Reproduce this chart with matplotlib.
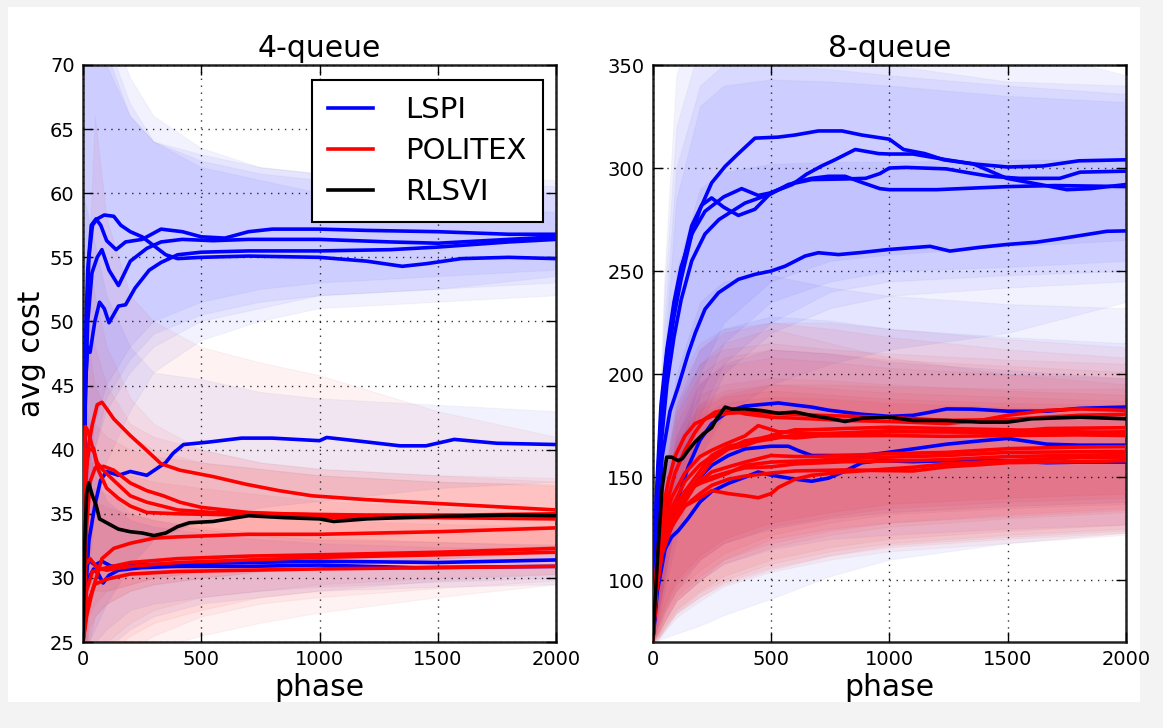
import matplotlib
matplotlib.use("Agg")
import matplotlib.pyplot as plt
from matplotlib.lines import Line2D
from matplotlib.patches import Rectangle

# ---------------- data : 4-queue ----------------
Q4_BAND_X = [0, 25, 50, 100, 200, 300, 500, 750, 1000, 1500, 2000]

Q4_LSPI = [
    ([0, 10, 20, 35, 55, 75, 100, 140, 180, 250, 330, 420, 500, 600, 700, 800, 1000, 1200, 1500, 1800, 2000],
     [25, 48, 54, 57.5, 58.0, 57.5, 56.3, 55.6, 56.2, 56.4, 57.2, 57.0, 56.6, 56.5, 57.0, 57.2, 57.2, 57.1, 57.0, 56.8, 56.8]),
    ([0, 8, 15, 25, 40, 60, 90, 130, 160, 200, 250, 300, 350, 400, 500, 700, 1000, 1200, 1350, 1450, 1600, 1800, 2000],
     [25, 42, 50, 55, 57.5, 58.0, 58.3, 58.2, 57.5, 57.0, 56.6, 55.9, 55.2, 54.9, 55.0, 55.1, 55.0, 54.7, 54.3, 54.5, 54.9, 55.0, 54.9]),
    ([0, 10, 20, 38, 60, 80, 110, 150, 200, 270, 330, 420, 550, 700, 1000, 1300, 1500, 1700, 2000],
     [25, 44, 50, 53.8, 55.0, 55.6, 54.0, 52.8, 54.7, 55.7, 56.2, 56.4, 56.3, 56.4, 56.4, 56.2, 56.1, 56.3, 56.6]),
    ([0, 10, 20, 30, 50, 70, 90, 110, 150, 180, 220, 280, 330, 400, 500, 700, 1000, 1300, 1500, 1800, 2000],
     [25, 45, 48, 47.6, 50, 51.5, 51.0, 49.9, 51.2, 51.3, 52.6, 54.0, 54.6, 55.2, 55.4, 55.5, 55.5, 55.6, 55.8, 56.2, 56.4]),
    ([0, 15, 25, 45, 53, 74, 100, 150, 200, 270, 310, 350, 380, 425, 535, 670, 800, 1000, 1030, 1200, 1340, 1450, 1570, 1750, 2000],
     [25, 30, 32.9, 35.1, 35.9, 37.6, 38.3, 38.0, 38.3, 38.0, 38.5, 39.0, 39.7, 40.4, 40.6, 40.9, 40.9, 40.7, 40.95, 40.6, 40.3, 40.3, 40.8, 40.5, 40.4]),
    ([0, 10, 25, 50, 80, 120, 200, 400, 700, 1000, 1500, 2000],
     [25, 30.5, 31.4, 31.0, 31.3, 30.9, 31.0, 31.1, 31.2, 31.3, 31.2, 31.4]),
    ([0, 10, 25, 45, 65, 85, 110, 150, 250, 400, 700, 1000, 1400, 2000],
     [25, 29.0, 30.0, 30.7, 30.3, 29.6, 30.2, 30.6, 30.8, 30.9, 30.9, 31.0, 30.8, 30.9]),
]
Q4_LSPI_LO = [
    [20, 38, 42, 45, 48, 50, 51.5, 52.5, 53, 53.5, 54],
    [20, 35, 40, 44, 47, 49, 50.5, 51.5, 52, 52.5, 53],
    [20, 36, 40, 43, 46, 48, 50, 51, 52, 52.5, 53.5],
    [20, 30, 35, 39, 43, 46, 48.5, 50, 51, 51.5, 52],
    [20, 25, 26, 28, 31, 33, 34.5, 35.5, 36, 37, 37.5],
    [20, 24, 25, 26, 27.5, 28, 28.5, 29, 29.3, 29.7, 30],
    [20, 22, 23, 24.5, 26, 27, 28, 28.5, 29, 29.3, 29.5],
]
Q4_LSPI_HI = [
    [80, 80, 78, 74, 69, 66, 63.5, 62, 61.5, 61, 60.5],
    [80, 80, 78, 72, 67, 64, 62, 61, 60, 59, 58.5],
    [80, 78, 75, 71, 66, 64, 62.5, 61.5, 61, 60.5, 60],
    [80, 78, 74, 70, 66, 64, 63, 62, 61.5, 61, 61],
    [60, 58, 56, 52, 48, 46, 45.5, 44.5, 44, 43.5, 43],
    [45, 42, 40, 37, 35, 34.5, 33.8, 33.3, 33, 32.8, 32.6],
    [45, 40, 38, 36, 34.5, 34, 33.5, 33, 32.7, 32.4, 32.3],
]

Q4_POLITEX = [
    ([0, 8, 20, 40, 60, 80, 100, 130, 200, 260, 330, 410, 550, 690, 830, 970, 1200, 1500, 1800, 2000],
     [25, 36, 40, 42, 43.5, 43.7, 43.2, 42.4, 41.1, 40.1, 38.9, 38.4, 37.9, 37.3, 36.8, 36.4, 36.1, 35.8, 35.5, 35.3]),
    ([0, 5, 10, 20, 40, 60, 80, 130, 200, 270, 400, 550, 800, 1200, 1600, 2000],
     [25, 38, 41.8, 41.5, 40.2, 39.0, 38.5, 37.6, 36.4, 35.9, 35.3, 35.1, 35.0, 34.9, 34.9, 35.0]),
    ([0, 15, 30, 52, 87, 130, 200, 270, 340, 410, 500, 700, 1000, 1500, 2000],
     [25, 34, 37.5, 38.6, 38.7, 38.4, 37.4, 36.8, 36.4, 35.9, 35.5, 35.1, 34.9, 34.8, 34.8]),
    ([0, 10, 25, 45, 60, 100, 150, 200, 270, 400, 700, 1000, 1500, 2000],
     [25, 38, 40.0, 40.1, 38.6, 37.0, 36.2, 35.6, 35.1, 35.0, 34.9, 34.7, 34.7, 34.6]),
    ([0, 15, 40, 80, 130, 200, 300, 400, 550, 700, 1000, 1500, 2000],
     [25, 27, 29, 31.5, 32.3, 32.7, 33.1, 33.2, 33.3, 33.4, 33.4, 33.6, 33.9]),
    ([0, 15, 40, 100, 200, 400, 700, 1000, 1500, 2000],
     [25, 29, 30.5, 30.8, 31.2, 31.5, 31.7, 31.8, 32.0, 32.3]),
    ([0, 10, 30, 60, 100, 200, 400, 700, 1000, 1500, 2000],
     [25, 31, 31.5, 30.8, 30.6, 30.9, 31.2, 31.4, 31.6, 31.8, 32.0]),
    ([0, 20, 50, 100, 200, 400, 700, 1000, 1500, 2000],
     [25, 28, 29.5, 29.9, 30.3, 30.5, 30.6, 30.7, 30.8, 30.9]),
]
Q4_POLITEX_LO = [
    [20, 25, 27, 28, 29, 29.5, 30, 30.5, 31, 31.5, 32],
    [20, 28, 29, 29, 29.5, 30, 30.5, 31, 31.5, 32, 32.5],
    [20, 26, 27, 28, 29, 29.5, 30, 30.5, 31, 31.5, 32],
    [20, 27, 28, 29, 29.5, 30, 30.5, 31, 31.5, 32, 32.2],
    [18, 20, 22, 24, 25.5, 26.5, 27.5, 28.5, 29, 29.8, 30.3],
    [18, 20, 21, 22, 23.5, 24.5, 25.5, 26.5, 27.3, 28.5, 29.5],
    [18, 22, 23.5, 25, 26.5, 27.5, 28.5, 29, 29.5, 30, 30.3],
    [18, 21, 22, 23, 24.5, 25.5, 27, 28, 28.5, 29.2, 29.8],
]
Q4_POLITEX_HI = [
    [40, 55, 66, 58, 52, 50, 48, 46.8, 45.8, 43, 41],
    [50, 55, 52, 48, 44, 42, 40, 39, 38.5, 38, 37.8],
    [45, 50, 48, 45, 42, 41, 40, 39, 38.5, 38, 37.5],
    [45, 48, 45, 43, 41, 40, 39, 38.5, 38, 37.5, 37.3],
    [40, 42, 42, 41, 40, 39.5, 39, 38.5, 38, 37.5, 37.2],
    [38, 39, 39, 38.5, 38, 37.5, 37, 36.5, 36, 35.5, 35],
    [36, 37, 37, 36.5, 36, 35.5, 35, 34.7, 34.5, 34.2, 34],
    [34, 36, 36, 35.5, 35, 34.5, 34, 33.5, 33.2, 32.8, 32.5],
]

Q4_RLSVI = [
    ([0, 8, 15, 24, 40, 55, 70, 100, 150, 200, 250, 300, 350, 400, 450, 550, 700, 850, 1000, 1060, 1200, 1500, 1800, 2000],
     [25, 33, 36.5, 37.4, 36.4, 35.7, 34.6, 34.3, 33.8, 33.6, 33.5, 33.3, 33.5, 34.0, 34.3, 34.4, 34.85, 34.7, 34.6, 34.4, 34.6, 34.8, 34.9, 34.85]),
]

# ---------------- data : 8-queue ----------------
Q8_BAND_X = [0, 25, 50, 100, 200, 300, 500, 750, 1000, 1500, 2000]

Q8_LSPI = [
    ([0, 15, 35, 60, 90, 120, 160, 200, 249, 306, 362, 432, 530, 600, 700, 800, 884, 1000, 1060, 1150, 1230, 1355, 1500, 1650, 1800, 2000],
     [70, 140, 185, 212, 235, 252, 266, 280, 292.8, 300.8, 307, 314.5, 315, 316, 318, 318, 316, 314, 309, 307, 304, 302, 300.5, 301, 303.5, 304]),
    ([0, 15, 35, 60, 90, 120, 165, 207, 249, 300, 362, 432, 500, 600, 672, 743, 813, 884, 960, 1000, 1200, 1500, 1700, 2000],
     [70, 135, 180, 210, 232, 250, 272, 282, 285.5, 281, 277, 280, 288, 293, 295, 296, 296, 293, 290, 289.5, 289.5, 291, 291.5, 291]),
    ([0, 15, 35, 60, 90, 120, 165, 221, 300, 376, 446, 500, 590, 650, 714, 770, 856, 955, 1000, 1100, 1242, 1355, 1496, 1637, 1750, 1850, 2000],
     [70, 130, 175, 205, 228, 246, 268, 279, 286, 290, 286.7, 288, 292, 297, 301, 304, 309, 307, 306.8, 306.8, 304, 302, 295, 292, 289.5, 290, 292]),
    ([0, 15, 35, 60, 90, 120, 165, 221, 280, 390, 500, 573, 672, 813, 900, 960, 1000, 1070, 1240, 1355, 1425, 1550, 1720, 1806, 2000],
     [70, 125, 165, 195, 218, 236, 255, 268, 275, 283, 287.5, 292, 294.4, 294.7, 295, 297.3, 300, 300.3, 299.6, 297.3, 296, 295, 295, 298, 298.5]),
    ([0, 20, 40, 73, 108, 150, 180, 221, 278, 362, 432, 500, 560, 644, 700, 785, 880, 1000, 1172, 1256, 1380, 1496, 1620, 1722, 1919, 2000],
     [70, 120, 160, 182, 194, 210, 220, 231.5, 239.5, 246, 248.4, 250, 252.4, 257.3, 258.9, 258, 259, 260.5, 262, 259.7, 261.5, 262.9, 264, 265.7, 269.3, 269.5]),
    ([0, 20, 50, 80, 108, 150, 200, 250, 320, 390, 531, 600, 672, 743, 813, 884, 1000, 1100, 1172, 1242, 1350, 1500, 1665, 1806, 2000],
     [70, 100, 120, 130, 140, 155, 168, 176, 182, 184.5, 186, 185, 184, 182.5, 181.5, 180.5, 179.5, 180, 181.5, 183.1, 183, 182, 182, 183.4, 184]),
    ([0, 20, 50, 80, 108, 150, 200, 249, 320, 390, 500, 573, 615, 672, 813, 884, 961, 1100, 1242, 1383, 1500, 1665, 1806, 2000],
     [70, 100, 118, 126, 132, 142, 150, 155.7, 160.5, 163.7, 165, 165, 162.9, 160.5, 160.5, 160.5, 161.5, 163.7, 166, 167.6, 168.8, 166, 165.5, 165.5]),
    ([0, 20, 52, 80, 108, 150, 200, 249, 320, 390, 446, 500, 602, 672, 743, 813, 884, 961, 1100, 1242, 1500, 1665, 1806, 2000],
     [70, 95, 115, 121, 124, 130, 138, 143, 147, 150, 152.5, 151, 149, 148, 149.5, 153, 157, 158, 157.5, 158, 158, 157, 157.3, 157.3]),
]
Q8_LSPI_LO = [
    [70, 90, 110, 150, 200, 225, 245, 255, 258, 262, 265],
    [70, 88, 105, 140, 190, 215, 235, 245, 250, 252, 255],
    [70, 85, 100, 135, 180, 205, 225, 240, 245, 248, 250],
    [70, 85, 100, 130, 175, 200, 220, 232, 238, 242, 245],
    [70, 80, 95, 120, 160, 180, 195, 205, 212, 220, 235],
    [70, 78, 85, 95, 110, 118, 125, 130, 133, 136, 138],
    [70, 75, 80, 90, 100, 108, 115, 120, 122, 125, 127],
    [70, 71, 72, 74, 78, 83, 91, 102, 110, 118, 123],
]
Q8_LSPI_HI = [
    [70, 170, 250, 345, 380, 390, 390, 385, 375, 360, 345],
    [70, 160, 240, 320, 360, 365, 360, 355, 350, 342, 340],
    [70, 150, 225, 300, 340, 350, 350, 348, 345, 340, 336],
    [70, 140, 210, 285, 330, 340, 343, 342, 340, 335, 332],
    [70, 130, 180, 250, 290, 298, 302, 303, 303, 304, 304],
    [70, 120, 160, 200, 235, 245, 248, 242, 238, 234, 232],
    [70, 115, 150, 185, 212, 222, 228, 226, 222, 218, 215],
    [70, 110, 140, 170, 195, 205, 212, 210, 206, 202, 198],
]

Q8_POLITEX = [
    ([0, 15, 35, 66, 94, 136, 179, 221, 263, 320, 390, 500, 672, 813, 1000, 1242, 1383, 1500, 1665, 1806, 2000],
     [70, 100, 125, 140, 152, 163, 171.8, 178.3, 181.5, 183.1, 180.7, 179.1, 178.3, 177.5, 177, 176, 177.5, 180, 182.4, 183.1, 182.4]),
    ([0, 15, 35, 66, 94, 136, 179, 249, 320, 400, 500, 700, 1000, 1242, 1500, 1800, 2000],
     [70, 105, 130, 148, 160, 170, 176, 179.5, 181, 181.5, 181, 180, 179, 177.5, 178, 180, 180.5]),
    ([0, 15, 40, 80, 136, 200, 249, 320, 390, 460, 531, 602, 672, 813, 1000, 1242, 1500, 1665, 1800, 2000],
     [70, 100, 120, 135, 148, 156, 160, 164, 167.6, 169, 171, 173, 173, 173.6, 174.2, 173.6, 173, 172.5, 172, 171]),
    ([0, 15, 40, 80, 136, 200, 249, 320, 390, 500, 602, 700, 850, 1000, 1242, 1500, 1665, 2000],
     [70, 98, 118, 132, 143, 153, 160.5, 165, 166.5, 168.5, 170.5, 171, 171, 172, 172, 172, 173.6, 174]),
    ([0, 15, 40, 80, 136, 200, 249, 320, 390, 500, 602, 700, 1000, 1242, 1500, 1800, 2000],
     [70, 95, 115, 128, 140, 150, 158, 163.7, 165.3, 170, 169, 170, 170.2, 169.8, 170.2, 170.5, 170.2]),
    ([0, 15, 40, 80, 136, 200, 249, 306, 390, 446, 531, 602, 672, 813, 1000, 1242, 1500, 2000],
     [70, 100, 125, 140, 152, 160, 163, 166, 170, 175, 172, 171.8, 171, 171.5, 172.5, 172, 171.5, 172]),
    ([0, 15, 40, 80, 136, 200, 249, 320, 390, 446, 500, 531, 602, 672, 813, 1000, 1101, 1242, 1500, 1806, 2000],
     [70, 95, 115, 128, 136, 140, 143.5, 142, 141, 140, 142, 145, 149, 150.9, 152.5, 154, 154.8, 156.5, 158, 159.5, 159.7]),
    ([0, 15, 40, 80, 136, 200, 249, 320, 390, 500, 602, 672, 813, 1000, 1242, 1500, 1806, 2000],
     [70, 100, 120, 132, 142, 148, 152.5, 155, 157.3, 160.5, 160, 160, 160.5, 161.4, 162, 163.8, 164.6, 164.8]),
    ([0, 15, 40, 80, 136, 200, 249, 320, 390, 500, 672, 813, 1000, 1242, 1500, 2000],
     [70, 98, 118, 133, 143, 147, 149, 152, 155.7, 157.3, 158, 159, 159.7, 160.5, 162, 162.5]),
    ([0, 15, 40, 80, 136, 179, 249, 320, 390, 500, 602, 813, 1000, 1242, 1500, 2000],
     [70, 96, 116, 128, 138, 146, 150, 152.5, 154.5, 155, 156.4, 157.5, 157.8, 158.5, 160, 161]),
    ([0, 15, 40, 80, 136, 200, 249, 320, 390, 500, 602, 813, 961, 1101, 1242, 1383, 1500, 1806, 2000],
     [70, 94, 113, 126, 136, 142, 146, 149, 150.5, 152, 153, 153.5, 153.2, 153, 155, 156, 157, 157.5, 158]),
]
Q8_POLITEX_LO = [
    [70, 80, 88, 100, 112, 120, 128, 133, 137, 140, 142],
    [70, 78, 86, 98, 110, 118, 126, 131, 135, 138, 140],
    [70, 76, 84, 95, 105, 113, 122, 128, 132, 135, 137],
    [70, 75, 82, 92, 102, 110, 118, 124, 128, 132, 135],
    [70, 74, 80, 90, 100, 108, 116, 122, 126, 130, 133],
    [70, 74, 80, 90, 100, 110, 120, 125, 128, 131, 134],
    [70, 72, 76, 84, 92, 98, 105, 112, 117, 121, 124],
    [70, 73, 78, 86, 95, 102, 110, 116, 120, 124, 127],
    [70, 72, 77, 85, 94, 100, 108, 114, 118, 122, 125],
    [70, 72, 76, 84, 92, 99, 106, 112, 116, 120, 123],
    [70, 71, 75, 82, 90, 97, 104, 110, 114, 118, 122],
]
Q8_POLITEX_HI = [
    [70, 130, 165, 195, 215, 222, 225, 225, 222, 217, 213],
    [70, 128, 160, 190, 212, 220, 225, 222, 218, 212, 208],
    [70, 125, 155, 185, 205, 212, 215, 212, 210, 207, 205],
    [70, 122, 150, 180, 200, 208, 212, 210, 207, 204, 201],
    [70, 120, 148, 176, 196, 204, 208, 206, 203, 200, 198],
    [70, 125, 152, 182, 205, 215, 222, 215, 208, 200, 195],
    [70, 115, 140, 165, 185, 190, 195, 195, 194, 193, 193],
    [70, 118, 145, 170, 190, 195, 198, 197, 195, 192, 190],
    [70, 116, 142, 167, 186, 192, 195, 193, 191, 189, 187],
    [70, 114, 140, 164, 183, 189, 192, 190, 188, 186, 185],
    [70, 112, 137, 160, 180, 186, 189, 188, 186, 184, 183],
]

Q8_RLSVI = [
    ([0, 20, 40, 59, 80, 108, 125, 150, 179, 214, 249, 270, 306, 334, 390, 460, 531, 602, 672, 757, 813, 884, 1000, 1101, 1242, 1383, 1500, 1600, 1806, 2000],
     [70, 110, 145, 159.7, 159.7, 158, 159, 163, 167, 171, 174, 178.3, 184, 183, 183.1, 182.3, 181, 181.6, 179.9, 178.3, 177, 178.6, 179.1, 177.5, 177.5, 176.7, 176.7, 178.3, 179.1, 178.3]),
]

TITLES = ["4-queue", "8-queue"]
YLIMS = [(25, 70), (70, 350)]
YTICKS = [[25, 30, 35, 40, 45, 50, 55, 60, 65, 70], [100, 150, 200, 250, 300, 350]]
XTICKS = [0, 500, 1000, 1500, 2000]
LEGEND_LABELS = ["LSPI", "POLITEX", "RLSVI"]

BLUE, RED, BLACK = "#0000ff", "#ff0000", "#000000"
BAND_ALPHA_BLUE = 0.05
BAND_ALPHA_RED = 0.05

W, H = 1163, 728
fig = plt.figure(figsize=(W / 100, H / 100), dpi=100, facecolor="#f3f3f3")
fig.patches.append(Rectangle((8 / W, 1 - 702 / H), (1140 - 8) / W, (702 - 7) / H,
                             transform=fig.transFigure, facecolor="white",
                             edgecolor="none", zorder=-10))

ax1 = fig.add_axes([83 / W, 1 - 642 / H, 473 / W, 577 / H])
ax2 = fig.add_axes([652.7 / W, 1 - 642 / H, 473.3 / W, 577 / H])

panels = [
    (ax1, Q4_BAND_X, Q4_LSPI, Q4_LSPI_LO, Q4_LSPI_HI, Q4_POLITEX, Q4_POLITEX_LO, Q4_POLITEX_HI, Q4_RLSVI),
    (ax2, Q8_BAND_X, Q8_LSPI, Q8_LSPI_LO, Q8_LSPI_HI, Q8_POLITEX, Q8_POLITEX_LO, Q8_POLITEX_HI, Q8_RLSVI),
]

LW = 2.6
for i, (ax, bx, lspi, llo, lhi, pol, plo, phi, rls) in enumerate(panels):
    for lo, hi in zip(llo, lhi):
        ax.fill_between(bx, lo, hi, facecolor=BLUE, alpha=BAND_ALPHA_BLUE,
                        edgecolor="#606080", linewidth=0.8, zorder=1)
    for lo, hi in zip(plo, phi):
        ax.fill_between(bx, lo, hi, facecolor=RED, alpha=BAND_ALPHA_RED,
                        edgecolor="#806060", linewidth=0.8, zorder=1)
    for x, y in lspi:
        ax.plot(x, y, color=BLUE, lw=LW, zorder=3)
    for x, y in pol:
        ax.plot(x, y, color=RED, lw=LW, zorder=3)
    for x, y in rls:
        ax.plot(x, y, color=BLACK, lw=LW, zorder=4)

    ax.set_xlim(0, 2000)
    ax.set_ylim(*YLIMS[i])
    ax.set_xticks(XTICKS)
    ax.set_yticks(YTICKS[i])
    ax.grid(True, color="black", linestyle=(0, (1, 4)), linewidth=1.0, alpha=0.8)
    ax.set_axisbelow(False)
    ax.tick_params(direction="in", length=7, width=1, top=True, right=True,
                   labelsize=14, pad=6)
    for s in ax.spines.values():
        s.set_linewidth(1.8)
        s.set_color("#222222")
    ax.set_title(TITLES[i], fontsize=21.5, pad=6)
    ax.set_xlabel("phase", fontsize=21.5, labelpad=3)

ax1.set_ylabel("avg cost", fontsize=21.5, labelpad=3)

handles = [Line2D([], [], color=c, lw=LW) for c in (BLUE, RED, BLACK)]
leg = ax1.legend(handles, LEGEND_LABELS, loc="upper right",
                 bbox_to_anchor=((543 - 83) / 473, 1 - (80 - 65) / 577),
                 borderaxespad=0, fontsize=21, handlelength=1.55,
                 handletextpad=1.1, labelspacing=0.45, borderpad=0.55,
                 fancybox=False, framealpha=1)
leg.get_frame().set_edgecolor("black")
leg.get_frame().set_linewidth(1.5)
leg.set_zorder(10)

fig.savefig("out.png", dpi=100, facecolor=fig.get_facecolor())
